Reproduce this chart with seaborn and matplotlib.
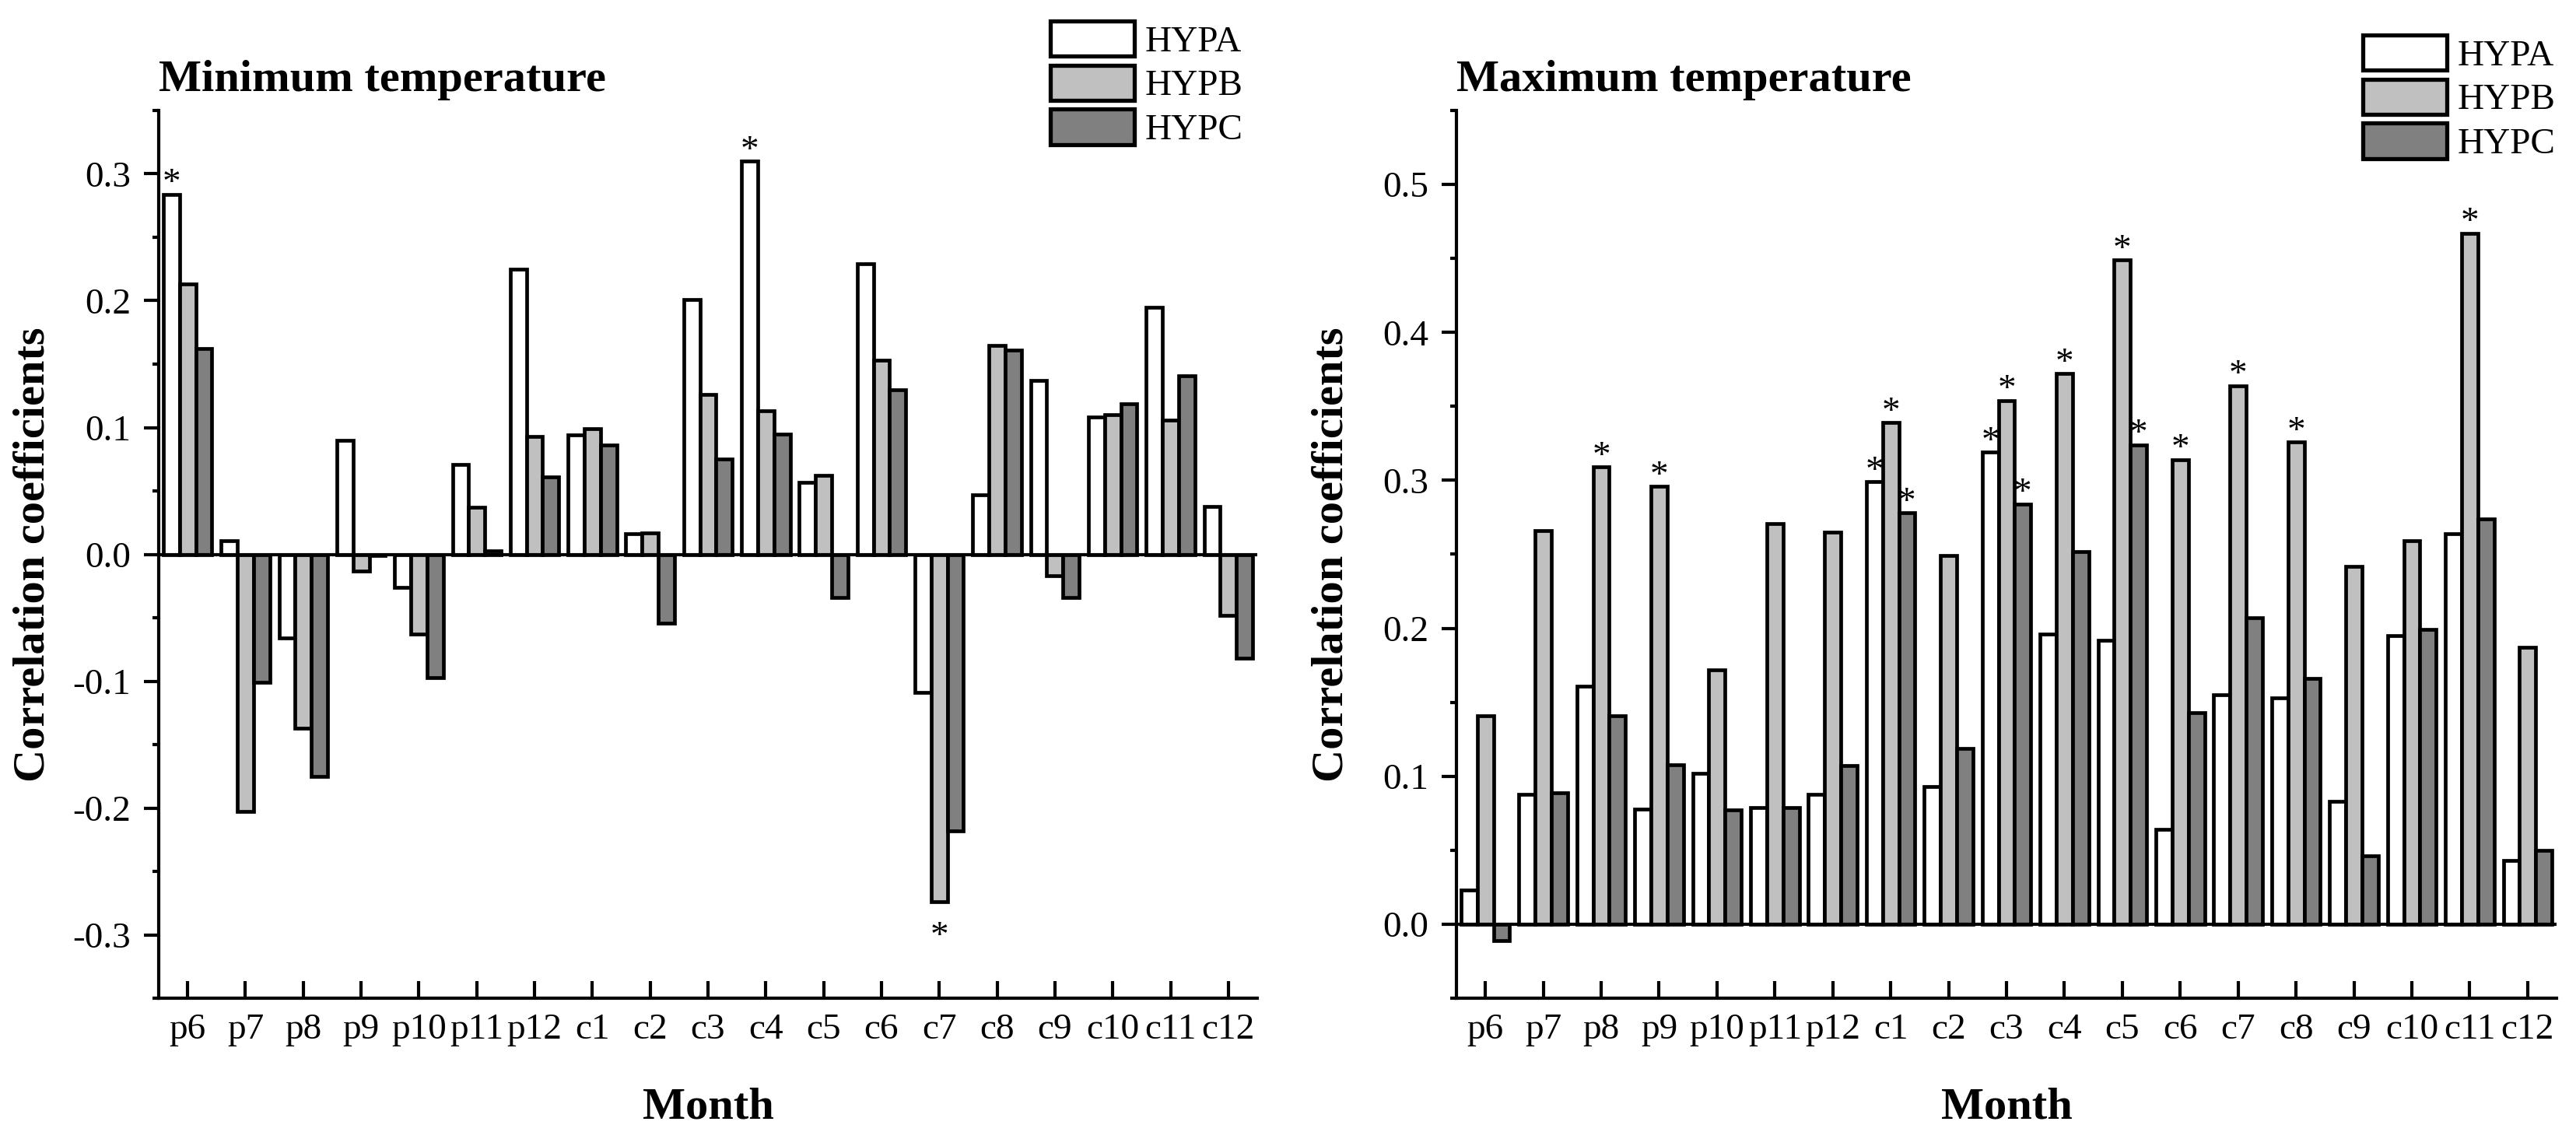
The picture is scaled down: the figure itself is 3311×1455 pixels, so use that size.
import numpy as np
import pandas as pd
import matplotlib
matplotlib.use("Agg")
import matplotlib.pyplot as plt
from matplotlib.ticker import MultipleLocator, FormatStrFormatter
import seaborn as sns

# ---------------- data ----------------
months = ['p6', 'p7', 'p8', 'p9', 'p10', 'p11', 'p12', 'c1', 'c2', 'c3',
          'c4', 'c5', 'c6', 'c7', 'c8', 'c9', 'c10', 'c11', 'c12']
series = ['HYPA', 'HYPB', 'HYPC']

min_hypa = [0.284, 0.011, -0.066, 0.090, -0.026, 0.071, 0.225, 0.094, 0.016, 0.201,
            0.310, 0.057, 0.229, -0.109, 0.047, 0.137, 0.108, 0.195, 0.038]
min_hypb = [0.213, -0.203, -0.137, -0.013, -0.063, 0.037, 0.093, 0.099, 0.017, 0.126,
            0.113, 0.062, 0.153, -0.274, 0.165, -0.017, 0.110, 0.106, -0.048]
min_hypc = [0.162, -0.101, -0.175, -0.001, -0.097, 0.003, 0.061, 0.086, -0.054, 0.075,
            0.095, -0.034, 0.130, -0.218, 0.161, -0.034, 0.119, 0.141, -0.082]

max_hypa = [0.023, 0.088, 0.161, 0.078, 0.102, 0.079, 0.088, 0.299, 0.093, 0.319,
            0.196, 0.192, 0.064, 0.155, 0.153, 0.083, 0.195, 0.264, 0.043]
max_hypb = [0.141, 0.266, 0.309, 0.296, 0.172, 0.271, 0.265, 0.339, 0.249, 0.354,
            0.372, 0.449, 0.314, 0.364, 0.326, 0.242, 0.259, 0.467, 0.187]
max_hypc = [-0.011, 0.089, 0.141, 0.108, 0.077, 0.079, 0.107, 0.278, 0.119, 0.284,
            0.252, 0.324, 0.143, 0.207, 0.166, 0.046, 0.199, 0.274, 0.050]

# significant correlations (marked with *)
min_sig = [('p6', 'HYPA'), ('c4', 'HYPA'), ('c7', 'HYPB')]
max_sig = [('p8', 'HYPB'), ('p9', 'HYPB'), ('c1', 'HYPA'), ('c1', 'HYPB'), ('c1', 'HYPC'),
           ('c3', 'HYPA'), ('c3', 'HYPB'), ('c3', 'HYPC'), ('c4', 'HYPB'), ('c5', 'HYPB'),
           ('c5', 'HYPC'), ('c6', 'HYPB'), ('c7', 'HYPB'), ('c8', 'HYPB'), ('c11', 'HYPB')]

colors = ['#ffffff', '#c0c0c0', '#808080']

# ---------------- style ----------------
sns.set_style('ticks')
plt.rcParams['font.family'] = ['Liberation Serif', 'DejaVu Serif']
plt.rcParams['axes.unicode_minus'] = False
for k in ['text.color', 'axes.labelcolor', 'xtick.color', 'ytick.color', 'axes.edgecolor']:
    plt.rcParams[k] = 'black'

W, H = 3311, 1455
fig = plt.figure(figsize=(W / 100, H / 100), dpi=100)

BAR_LW = 3.4
LW = 3.0
TICK_FS = 34
LABEL_FS = 42


def make_df(a, b, c):
    return pd.DataFrame({
        'Month': months * 3,
        'Series': [series[0]] * len(months) + [series[1]] * len(months) + [series[2]] * len(months),
        'Value': list(a) + list(b) + list(c),
    })


def panel(rect, a, b, c, sig, title, ylim, legend_anchor):
    ax = fig.add_axes(rect)
    df = make_df(a, b, c)
    sns.barplot(data=df, x='Month', y='Value', hue='Series', order=months, hue_order=series,
                palette=colors, saturation=1, edgecolor='black', linewidth=BAR_LW,
                width=0.84, gap=0, errorbar=None, ax=ax, zorder=2)
    ax.axhline(0, color='black', lw=LW, zorder=3)
    ax.set_xlim(-0.5, len(months) - 0.5)
    ax.set_ylim(*ylim)
    ax.yaxis.set_major_locator(MultipleLocator(0.1))
    ax.yaxis.set_minor_locator(MultipleLocator(0.05))
    ax.yaxis.set_major_formatter(FormatStrFormatter('%.1f'))
    sns.despine(ax=ax)
    for s in ['left', 'bottom']:
        ax.spines[s].set_linewidth(LW)
        ax.spines[s].set_color('black')
    ax.tick_params(axis='y', which='major', direction='out', length=14, width=LW,
                   labelsize=TICK_FS, pad=12)
    ax.tick_params(axis='y', which='minor', direction='out', length=6, width=LW)
    ax.tick_params(axis='x', which='major', direction='in', length=16, width=LW,
                   labelsize=TICK_FS, pad=14)
    ax.tick_params(axis='x', which='minor', bottom=False)

    # significance marks
    values = [a, b, c]
    for s_i, cont in enumerate(ax.containers):
        for m_i, bar in enumerate(cont):
            if (months[m_i], series[s_i]) in sig:
                xc = bar.get_x() + bar.get_width() / 2
                val = values[s_i][m_i]
                dy = 1 if val >= 0 else -41
                ax.annotate('*', xy=(xc, val), xytext=(0, dy), textcoords='offset points',
                            ha='center', va='baseline', fontsize=TICK_FS, zorder=4)

    ax.set_title(title, loc='left', fontsize=LABEL_FS, fontweight='bold', y=1.022, pad=0)
    ax.set_xlabel('Month', fontsize=LABEL_FS, fontweight='bold', va='baseline')
    ax.xaxis.set_label_coords(0.5, -0.1358)
    ax.set_ylabel('Correlation coefficients', fontsize=LABEL_FS, fontweight='bold', va='center')
    ax.yaxis.set_label_coords(-161 / (rect[2] * W), 0.5)

    handles, labels = ax.get_legend_handles_labels()
    if ax.get_legend() is not None:
        ax.get_legend().remove()
    leg = ax.legend(handles, labels, loc='upper left', bbox_to_anchor=legend_anchor,
                    bbox_transform=fig.transFigure, frameon=False, fontsize=TICK_FS,
                    borderpad=0, borderaxespad=0, handlelength=2.29, handleheight=1.1,
                    labelspacing=0.17, handletextpad=0.28)
    for hnd in leg.legend_handles:
        hnd.set_linewidth(3.8)
    return ax


bottom = 1 - 1283 / H
height = (1283 - 142) / H
panel([204 / W, bottom, (1616 - 204) / W, height], min_hypa, min_hypb, min_hypc, min_sig,
      'Minimum temperature', (-0.35, 0.35), (1350 / W, 1 - 27 / H))
panel([1872 / W, bottom, (3286 - 1872) / W, height], max_hypa, max_hypb, max_hypc, max_sig,
      'Maximum temperature', (-0.05, 0.55), (3037 / W, 1 - 45 / H))

fig.savefig('out.png', dpi=100)
